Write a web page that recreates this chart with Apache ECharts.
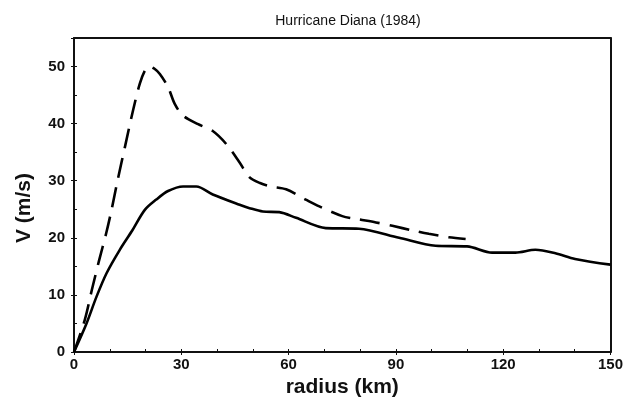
<!DOCTYPE html>
<html>
<head>
<meta charset="utf-8">
<script src="https://cdn.jsdelivr.net/npm/echarts@6/dist/echarts.min.js"></script>
<style>html,body{margin:0;padding:0;background:#fff}#c{width:626px;height:410px}</style>
</head>
<body>
<div id="c"></div>
<script>
const titleText = 'Hurricane Diana (1984)';
const xName = 'radius (km)';
const yName = 'V (m/s)';
const xTicks = [0, 30, 60, 90, 120, 150];
const yTicks = [0, 10, 20, 30, 40, 50];

const solidR = [0, 3.5, 6.3, 9.1, 12.8, 16.1, 19.8, 23, 26.3, 30.5, 34.2, 38.8, 46.3, 49.1, 52.8, 57.4, 62.1, 70.4, 79.7, 90.9, 101.1, 109.9, 116.9, 123.4, 129, 134.6, 140.1, 150];
const solidV = [0, 5, 9.7, 13.8, 17.9, 21.1, 24.9, 26.7, 28.2, 29, 29, 27.6, 25.8, 25.2, 24.6, 24.5, 23.5, 21.7, 21.6, 20.0, 18.6, 18.5, 17.4, 17.4, 17.9, 17.3, 16.3, 15.3];

const dashR = [0, 3, 5, 7, 9, 10.5, 12, 14.2, 16.5, 18.4, 20, 21.2, 22.5, 24, 26.3, 28.2, 30.5, 34.7, 38.8, 42.6, 46.3, 49.1, 52, 55, 59.3, 64.8, 68.6, 75, 79, 84.4, 89, 94.6, 99.2, 104.8, 109.5];
const dashV = [0, 5.6, 10.9, 16, 20.8, 24.9, 29.5, 35.8, 42.3, 47, 49.5, 50, 49.6, 48.7, 46.4, 43.4, 41.4, 39.9, 38.7, 36.4, 33.2, 30.6, 29.6, 29.0, 28.5, 26.7, 25.5, 23.8, 23.3, 22.7, 22.1, 21.3, 20.7, 20.1, 19.8];

const zip = (a, b) => a.map((v, i) => [v, b[i]]);
const font = 'Liberation Sans, Arial, sans-serif';

const chart = echarts.init(document.getElementById('c'), null, {renderer: 'canvas'});
const axisLine = {show: true, onZero: false, lineStyle: {color: '#111', width: 2}};
chart.setOption({
  animation: false,
  title: {text: titleText, left: 343, top: 9, textAlign: 'center',
    textStyle: {fontFamily: font, fontSize: 14, fontWeight: 'normal', color: '#111'}},
  grid: {left: 74, right: 14, top: 38, bottom: 58},
  xAxis: [
    {type: 'value', min: xTicks[0], max: xTicks[xTicks.length - 1], interval: 30,
     name: xName, nameLocation: 'middle', nameGap: 20,
     nameTextStyle: {fontFamily: font, fontSize: 21, fontWeight: 'bold', color: '#111'},
     axisLine: axisLine, axisTick: {show: true, length: 3, lineStyle: {color: '#111'}},
     axisLabel: {margin: 5, fontFamily: font, fontSize: 15, fontWeight: 'bold', color: '#111'},
     splitLine: {show: false}},
    {type: 'value', min: xTicks[0], max: xTicks[xTicks.length - 1], interval: 30, position: 'bottom',
     axisLine: {show: false, onZero: false}, axisTick: {show: true, inside: true, length: 3, lineStyle: {color: '#111'}},
     minorTick: {show: true, splitNumber: 3, length: 3, lineStyle: {color: '#111'}},
     axisLabel: {show: false}, splitLine: {show: false}},
    {type: 'value', min: 0, max: 150, position: 'top', axisLine: axisLine,
     axisTick: {show: false}, axisLabel: {show: false}, splitLine: {show: false}}
  ],
  yAxis: [
    {type: 'value', min: 0, max: 55, interval: 10,
     name: yName, nameLocation: 'middle', nameGap: 39, nameRotate: 90,
     nameTextStyle: {fontFamily: font, fontSize: 21, fontWeight: 'bold', color: '#111', padding: [0, 0, 0, -26]},
     axisLine: axisLine, axisTick: {show: true, length: 3, lineStyle: {color: '#111'}},
     axisLabel: {margin: 9, fontFamily: font, fontSize: 15, fontWeight: 'bold', color: '#111',
       formatter: v => (yTicks.indexOf(v) >= 0 ? String(v) : '')},
     splitLine: {show: false}},
    {type: 'value', min: 0, max: 55, interval: 10, position: 'left',
     axisLine: {show: false, onZero: false}, axisTick: {show: true, inside: true, length: 3, lineStyle: {color: '#111'}},
     minorTick: {show: true, splitNumber: 2, length: 3, lineStyle: {color: '#111'}},
     axisLabel: {show: false}, splitLine: {show: false}},
    {type: 'value', min: 0, max: 55, position: 'right', axisLine: axisLine,
     axisTick: {show: false}, axisLabel: {show: false}, splitLine: {show: false}}
  ],
  series: [
    {type: 'line', data: zip(solidR, solidV), smooth: 0.3, symbol: 'none', xAxisIndex: 0, yAxisIndex: 0,
     lineStyle: {color: '#000', width: 2.6}},
    {type: 'line', data: zip(dashR, dashV), smooth: 0.3, symbol: 'none', xAxisIndex: 0, yAxisIndex: 0,
     lineStyle: {color: '#000', width: 2.6, type: [20, 10]}}
  ]
});
</script>
</body>
</html>
